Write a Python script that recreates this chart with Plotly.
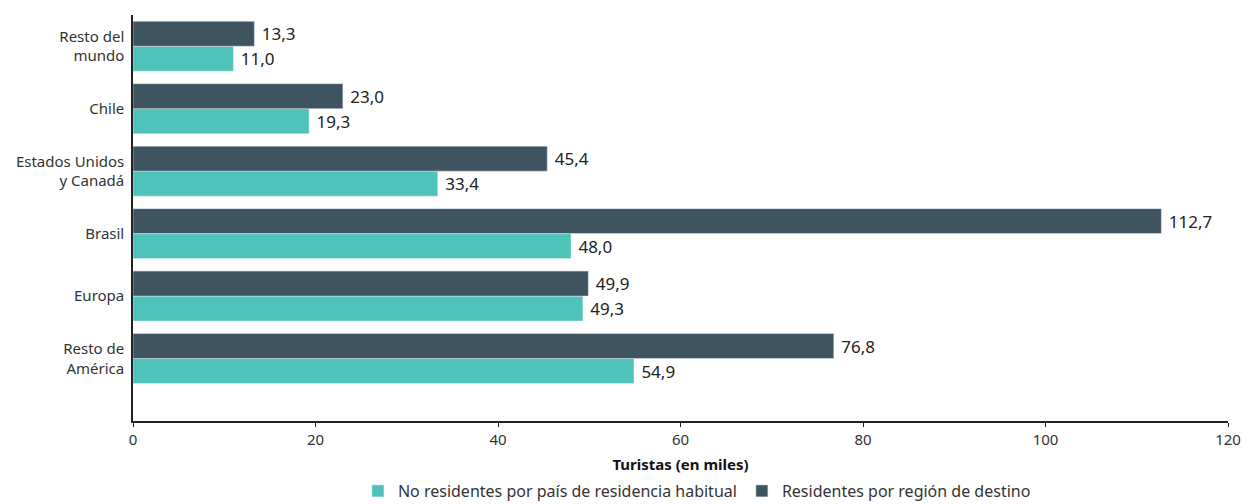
import plotly.graph_objects as go

categories = ["Resto de<br>América", "Europa", "Brasil", "Estados Unidos<br>y Canadá", "Chile", "Resto del<br>mundo"]
no_residentes = [54.9, 49.3, 48.0, 33.4, 19.3, 11.0]
residentes = [76.8, 49.9, 112.7, 45.4, 23.0, 13.3]
x_ticks = [0, 20, 40, 60, 80, 100, 120]

FONT = "'Noto Sans', 'Open Sans', sans-serif"
TEAL = "#4fc3b9"
DARK = "#3e5461"

fig = go.Figure()
fig.add_trace(go.Bar(
    y=categories, x=no_residentes, orientation="h", name="No residentes por país de residencia habitual",
    marker_color=TEAL, text=no_residentes, texttemplate=" %{x:.1f}", textposition="outside",
    textfont=dict(size=17, color="#222"), cliponaxis=False,
))
fig.add_trace(go.Bar(
    y=categories, x=residentes, orientation="h", name="Residentes por región de destino",
    marker_color=DARK, text=residentes, texttemplate=" %{x:.1f}", textposition="outside",
    textfont=dict(size=17, color="#222"), cliponaxis=False,
))

fig.update_layout(
    width=1242, height=504,
    margin=dict(l=133, r=14, t=15, b=83, autoexpand=False),
    barmode="group", bargap=0.2, bargroupgap=0,
    separators=",.",
    paper_bgcolor="white", plot_bgcolor="white",
    font=dict(family=FONT, size=15, color="#333"),
    showlegend=True,
    legend=dict(orientation="h", x=0.515, xanchor="center", y=-70/406, yanchor="middle",
                font=dict(size=16, color="#333"), traceorder="normal"),
)
fig.update_xaxes(
    range=[0, 120], tickvals=x_ticks, showgrid=False, zeroline=False, automargin=False,
    showline=True, linecolor="#222", linewidth=1.5,
    ticks="outside", ticklen=4, tickcolor="#222",
    tickfont=dict(size=15, color="#333"),
    title=dict(text="<b>Turistas (en miles)</b>", font=dict(size=15, color="#111"), standoff=12),
)
fig.update_yaxes(
    range=[-1, 5.5], showgrid=False, zeroline=False, automargin=False,
    showline=True, linecolor="#222", linewidth=1.5, ticks="",
    tickfont=dict(size=15, color="#333"), ticklabelstandoff=4,
)

fig.write_html(
    "out.html",
    config={"displayModeBar": False},
    post_script="document.body.style.margin='0';document.body.style.overflow='hidden';",
)
